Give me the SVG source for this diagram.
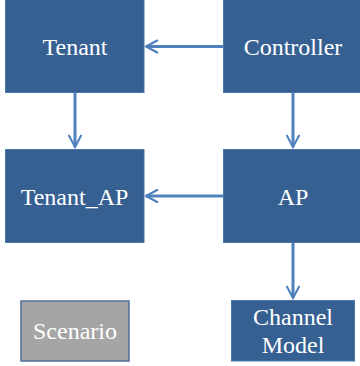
<svg xmlns="http://www.w3.org/2000/svg" width="360" height="366" viewBox="0 0 360 366">
  <style>
    .box { fill: #376092; stroke: #4a76ad; stroke-width: 1; }
    .gray { fill: #a5a5a5; stroke: #4f6e9a; stroke-width: 1.5; }
    .lbl { font-family: 'Liberation Serif', 'Times New Roman', 'DejaVu Serif', serif; font-size: 24px; fill: #ffffff; text-anchor: middle; }
    .edge { stroke: #4f81bd; stroke-width: 3; fill: none; marker-end: url(#chev); }
  </style>
  <defs>
    <marker id="chev" viewBox="0 0 10 10" refX="9" refY="5" markerWidth="5" markerHeight="5" orient="auto" markerUnits="strokeWidth">
      <path d="M1.5,1 L9,5 L1.5,9" fill="none" stroke="#4f81bd" stroke-width="1.4" stroke-linecap="round" stroke-linejoin="miter"/>
    </marker>
  </defs>

  <g id="connectors">
    <line class="edge" x1="223" y1="46.5" x2="146" y2="46.5"/>
    <line class="edge" x1="75" y1="93" x2="75" y2="147"/>
    <line class="edge" x1="293" y1="93" x2="293" y2="147"/>
    <line class="edge" x1="223" y1="196" x2="146" y2="196"/>
    <line class="edge" x1="293" y1="243" x2="293" y2="298"/>
  </g>

  <g id="tenant">
    <rect class="box" x="5.5" y="-1" width="138.5" height="93.5"/>
    <text class="lbl" x="75" y="55" font-family="Liberation Serif">Tenant</text>
  </g>
  <g id="controller">
    <rect class="box" x="223.5" y="-1" width="140" height="93.5"/>
    <text class="lbl" x="293" y="55" font-family="Liberation Serif">Controller</text>
  </g>
  <g id="tenant_ap">
    <rect class="box" x="5.5" y="149.5" width="138.5" height="93"/>
    <text class="lbl" x="74.5" y="205" font-family="Liberation Serif">Tenant_AP</text>
  </g>
  <g id="ap">
    <rect class="box" x="223.5" y="149.5" width="140" height="93"/>
    <text class="lbl" x="293" y="205" font-family="Liberation Serif">AP</text>
  </g>
  <g id="scenario">
    <rect class="gray" x="21" y="301" width="108" height="60"/>
    <text class="lbl" x="75" y="339" font-family="Liberation Serif">Scenario</text>
  </g>
  <g id="channel_model">
    <rect class="box" x="231.5" y="300.5" width="123" height="60.5"/>
    <text class="lbl" x="293" y="325" font-family="Liberation Serif">Channel</text>
    <text class="lbl" x="293" y="353" font-family="Liberation Serif">Model</text>
  </g>
</svg>
